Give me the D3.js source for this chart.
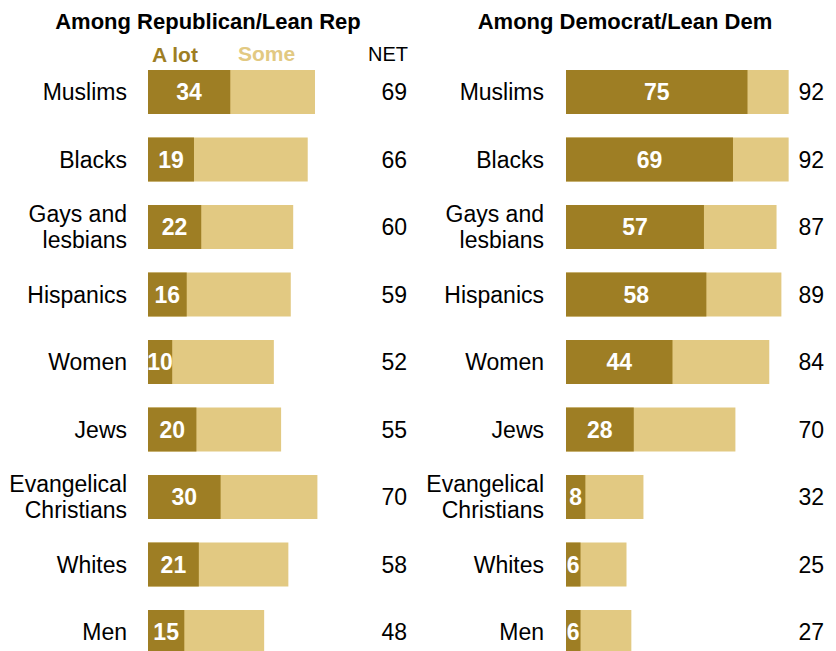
<!DOCTYPE html>
<html>
<head>
<meta charset="utf-8">
<script src="https://cdn.jsdelivr.net/npm/d3@7"></script>
<style>
  body { margin: 0; background: #fff; }
  svg { display: block; font-family: "Liberation Sans", Arial, sans-serif; }
</style>
</head>
<body>
<svg id="chart" width="836" height="651"></svg>
<script>
// groups, in chart order
var groups = ["Muslims", "Blacks", "Gays and lesbians", "Hispanics", "Women",
              "Jews", "Evangelical Christians", "Whites", "Men"];
// two-line labels
var labelLines = [["Muslims"], ["Blacks"], ["Gays and", "lesbians"], ["Hispanics"], ["Women"],
                  ["Jews"], ["Evangelical", "Christians"], ["Whites"], ["Men"]];

var repALot = [34, 19, 22, 16, 10, 20, 30, 21, 15];
var repNet  = [69, 66, 60, 59, 52, 55, 70, 58, 48];
var demALot = [75, 69, 57, 58, 44, 28, 8, 6, 6];
var demNet  = [92, 92, 87, 89, 84, 70, 32, 25, 27];

var dark = "#9e7e24", light = "#e2c982";
var svg = d3.select("#chart");

var y = d3.scalePoint().domain(groups).range([92, 632]);
var barH = 44;

function panel(opts) {
  var x = d3.scaleLinear().domain([0, 100]).range([opts.x0, opts.x0 + 242]);
  var g = svg.append("g");

  g.append("text")
    .attr("x", opts.titleX).attr("y", 29)
    .attr("text-anchor", "middle")
    .style("font-weight", "bold").style("font-size", "22px")
    .text(opts.title);

  var rows = g.selectAll(".row")
    .data(groups.map(function(d, i) {
      return {name: d, lines: labelLines[i], alot: opts.alot[i], net: opts.net[i]};
    }))
    .enter().append("g").attr("class", "row");

  // Some = full NET bar underneath
  rows.append("rect")
    .attr("x", x(0)).attr("y", function(d) { return y(d.name) - barH / 2; })
    .attr("width", function(d) { return x(d.net) - x(0); })
    .attr("height", barH).attr("fill", light);

  rows.append("rect")
    .attr("x", x(0)).attr("y", function(d) { return y(d.name) - barH / 2; })
    .attr("width", function(d) { return x(d.alot) - x(0); })
    .attr("height", barH).attr("fill", dark);

  rows.append("text")
    .attr("x", function(d) { return (x(0) + x(d.alot)) / 2; })
    .attr("y", function(d) { return y(d.name) + 8; })
    .attr("text-anchor", "middle")
    .style("font-weight", "bold").style("font-size", "23px").attr("fill", "#fff")
    .text(function(d) { return d.alot; });

  rows.append("text")
    .attr("x", opts.netX)
    .attr("y", function(d) { return y(d.name) + 8; })
    .attr("text-anchor", "end")
    .style("font-size", "23px").attr("fill", "#000")
    .text(function(d) { return d.net; });

  var lbl = rows.append("text")
    .attr("text-anchor", "end")
    .style("font-size", "23px").attr("fill", "#000");
  lbl.selectAll("tspan")
    .data(function(d) {
      var n = d.lines.length;
      return d.lines.map(function(t, j) {
        return {t: t, yy: y(d.name) + 8 + (j - (n - 1) / 2) * 26};
      });
    })
    .enter().append("tspan")
    .attr("x", opts.labelX)
    .attr("y", function(d) { return d.yy; })
    .text(function(d) { return d.t; });

  return x;
}

panel({title: "Among Republican/Lean Rep", titleX: 208, x0: 148,
       labelX: 127, netX: 407, alot: repALot, net: repNet});
panel({title: "Among Democrat/Lean Dem", titleX: 625, x0: 566,
       labelX: 544, netX: 824, alot: demALot, net: demNet});

// legend
svg.append("text").attr("x", 152).attr("y", 62)
  .style("font-weight", "bold").style("font-size", "21px").attr("fill", dark).text("A lot");
svg.append("text").attr("x", 238).attr("y", 61)
  .style("font-weight", "bold").style("font-size", "21px").attr("fill", light).text("Some");
svg.append("text").attr("x", 408).attr("y", 61).attr("text-anchor", "end")
  .style("font-size", "20px").attr("fill", "#000").text("NET");
</script>
</body>
</html>
